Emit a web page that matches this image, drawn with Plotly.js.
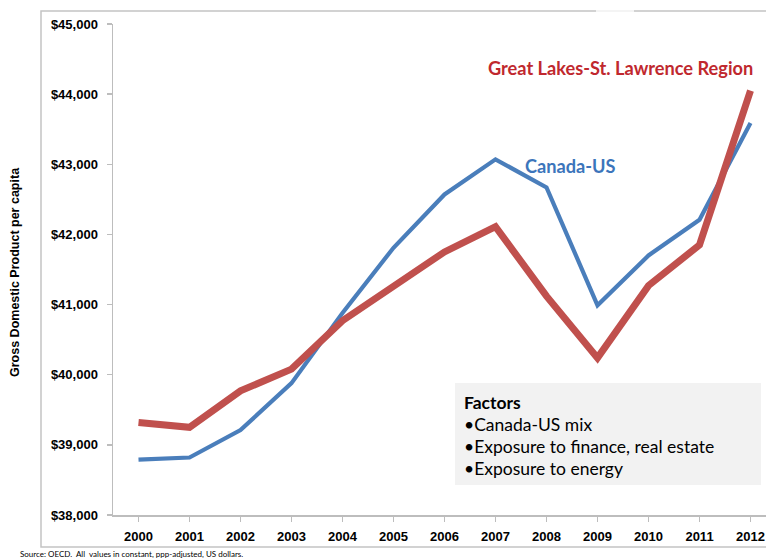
<!DOCTYPE html>
<html>
<head>
<meta charset="utf-8">
<script src="https://cdn.plot.ly/plotly-3.0.1.min.js"></script>
<style>html,body{margin:0;padding:0;background:#fff;}#chart{width:766px;height:560px;}</style>
</head>
<body>
<div id="chart"></div>
<script>
const years = ['2000','2001','2002','2003','2004','2005','2006','2007','2008','2009','2010','2011','2012'];
const canadaUS = [38790, 38820, 39210, 39880, 40880, 41810, 42570, 43070, 42670, 40990, 41700, 42210, 43590];
const greatLakes = [39320, 39250, 39770, 40080, 40770, 41260, 41750, 42110, 41120, 40240, 41270, 41850, 44050];
const yTicks = [38000, 39000, 40000, 41000, 42000, 43000, 44000, 45000];
const yTickText = ['$38,000','$39,000','$40,000','$41,000','$42,000','$43,000','$44,000','$45,000'];
const factorLines = ['<b>Factors</b>', '•Canada-US mix', '•Exposure to finance, real estate', '•Exposure to energy'];

// pixel helpers for paper coordinates (plot area: x 113..766, y 24..515)
const L = 113, R = 766, T = 24, B = 515;
const px = x => (x - L) / (R - L);
const py = y => (B - y) / (B - T);

const traces = [
  {x: years.map((_, i) => i), y: canadaUS, type: 'scatter', mode: 'lines', name: 'Canada-US',
   line: {color: '#4a7ebb', width: 4.2}, hoverinfo: 'skip'},
  {x: years.map((_, i) => i), y: greatLakes, type: 'scatter', mode: 'lines', name: 'Great Lakes-St. Lawrence Region',
   line: {color: '#c0504d', width: 7}, hoverinfo: 'skip'}
];

const annotations = [
  {xref: 'paper', yref: 'paper', x: px(620), y: py(68), xanchor: 'center', yanchor: 'middle',
   text: '<b>Great Lakes-St. Lawrence Region</b>',
   showarrow: false, font: {family: 'Lato, "Open Sans", sans-serif', size: 18.2, color: '#c0282e'}},
  {xref: 'paper', yref: 'paper', x: px(570), y: py(166), xanchor: 'center', yanchor: 'middle',
   text: '<b>Canada-US</b>',
   showarrow: false, font: {family: 'Lato, "Open Sans", sans-serif', size: 18.2, color: '#3c75bb'}},
  {xref: 'paper', yref: 'paper', x: px(15), y: py(272), xanchor: 'center', yanchor: 'middle',
   text: '<b>Gross Domestic Product per capita</b>',
   textangle: -90, showarrow: false, font: {family: '"Liberation Sans", Arial, sans-serif', size: 12.5, color: '#000'}},
  {xref: 'paper', yref: 'paper', x: px(18), y: py(554), xanchor: 'left', yanchor: 'middle',
   text: 'Source: OECD.  All  values in constant, ppp-adjusted, US dollars.',
   showarrow: false, font: {family: 'Lato, "Open Sans", sans-serif', size: 8, color: '#000'}}
];
const lineY = [402, 424, 446, 468];
factorLines.forEach((t, i) => {
  annotations.push({xref: 'paper', yref: 'paper', x: px(462), y: py(lineY[i]), xanchor: 'left', yanchor: 'middle',
    text: t, showarrow: false, font: {family: 'Lato, "Open Sans", sans-serif', size: 17.5, color: '#000'}});
});

const shapes = [
  {type: 'rect', xref: 'paper', yref: 'paper', x0: px(41), x1: px(800), y0: py(547), y1: py(11),
   line: {color: '#c4c4c4', width: 1.5}, fillcolor: 'rgba(0,0,0,0)', layer: 'below'},
  {type: 'line', xref: 'paper', yref: 'paper', x0: px(596), x1: px(634), y0: py(11), y1: py(11),
   line: {color: '#f4f4f4', width: 2}, layer: 'below'},
  {type: 'rect', xref: 'paper', yref: 'paper', x0: px(455), x1: px(761), y0: py(485), y1: py(383),
   line: {width: 0}, fillcolor: '#f2f2f2', layer: 'below'}
];

const layout = {
  width: 766, height: 560,
  margin: {l: L, r: 0, t: T, b: 560 - B},
  paper_bgcolor: '#fff', plot_bgcolor: 'rgba(0,0,0,0)',
  showlegend: false,
  font: {family: '"Liberation Sans", Arial, sans-serif', color: '#000'},
  xaxis: {
    range: [-0.5, -0.5 + (R - L) / 51], tickmode: 'array', tickvals: years.map((_, i) => i), ticktext: years,
    showgrid: false, zeroline: false, showline: true, linecolor: '#bdbdbd', linewidth: 1.5,
    ticks: 'outside', ticklen: 5, tickcolor: '#bdbdbd', tickwidth: 1.5,
    tickfont: {family: '"Liberation Sans", Arial, sans-serif', size: 13, weight: 'bold', color: '#000'},
    ticklabelstandoff: 4, fixedrange: true
  },
  yaxis: {
    range: [38000, 45000], tickmode: 'array', tickvals: yTicks, ticktext: yTickText,
    showgrid: false, zeroline: false, showline: true, linecolor: '#bdbdbd', linewidth: 1.5,
    ticks: 'outside', ticklen: 5, tickcolor: '#bdbdbd', tickwidth: 1.5,
    tickfont: {family: '"Liberation Sans", Arial, sans-serif', size: 13, weight: 'bold', color: '#000'},
    ticklabelstandoff: 6, fixedrange: true
  },
  annotations: annotations,
  shapes: shapes
};

Plotly.newPlot('chart', traces, layout, {displayModeBar: false, staticPlot: true});
</script>
</body>
</html>
